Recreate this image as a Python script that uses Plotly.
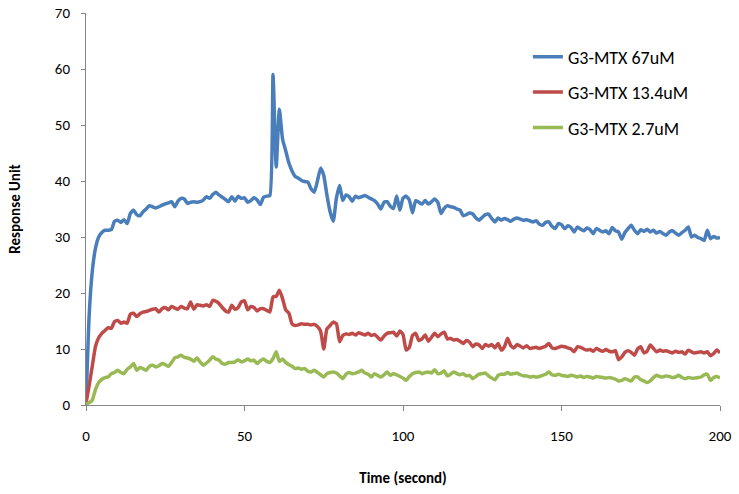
import plotly.graph_objects as go

# time in seconds, one sample per second
time_s = list(range(0, 201))

g3_67uM = [
    0, 16, 24, 28, 30, 30.8, 31.2, 31.2, 31.3, 32.8,
    33, 32.6, 33.1, 32.4, 34.2, 34.8, 34, 33.8, 34.5, 35,
    35.6, 35.4, 35.2, 35.4, 35.7, 35.9, 36.1, 36.3, 35.4, 36.4,
    36.9, 36.8, 36, 36.2, 36.3, 36.2, 36.3, 36.6, 37.2, 36.9,
    37.6, 38, 37.5, 37.1, 36.7, 36.3, 37.2, 36.4, 37.3, 36.9,
    37, 36.2, 36.5, 37, 36.6, 35.8, 37.1, 37.3, 37.4, 59,
    42.5, 52.8, 47.5, 45.4, 43.2, 41.8, 40.8, 40.5, 40.1, 39.9,
    39.8, 38.6, 38, 40, 42.3, 41, 37.5, 34.5, 32.8, 37,
    39.2, 36.5, 37.5, 37.2, 36.4, 37.3, 37, 37.2, 37.4, 37.1,
    36.8, 36.5, 35.9, 35, 36.2, 36.3, 35.5, 35.1, 37.3, 34.8,
    36.9, 37.3, 36.6, 34.3, 36.5, 36.2, 35.9, 36.5, 35.9, 36.3,
    36.8, 36.2, 34.2, 35.1, 35.6, 35.4, 35.3, 35, 34.8, 33.8,
    34, 34.3, 34.1, 33.4, 33, 33.5, 34, 34.1, 33.3, 32.7,
    33.4, 33, 33.3, 33.1, 32.8, 33.2, 33.4, 33.2, 33, 33.1,
    32.9, 32.7, 32.9, 32.3, 32.1, 32.6, 32.7, 31.9, 31.5, 32.4,
    32.2, 31.5, 32, 31.7, 30.9, 31.8, 31.4, 31.1, 31.6, 31.3,
    30.6, 31.5, 31.2, 30.9, 31.1, 30.6, 31.7, 31.1, 30.9, 29.6,
    30.8, 31.5, 32.1, 31.2, 30.6, 31.3, 31, 31.4, 30.9, 31.2,
    30.7, 31, 30.6, 30.3, 30.9, 31.1, 30.7, 30.3, 30.8, 31.2,
    31.8, 30, 30.3, 29.9, 29.7, 29.4, 31.2, 29.7, 30.1, 29.8,
    29.9,
]

g3_13_4uM = [
    0.3, 3.5, 7, 10.5, 12, 12.8, 13.3, 13.8, 13.7, 14.9,
    15.1, 14.6, 14.8, 14.6, 16.2, 16.4, 15.8, 16.3, 16.6, 16.7,
    16.9, 17.1, 17.2, 16.6, 17.2, 17.4, 17, 17.6, 17.3, 17.1,
    17.6, 17.3, 17.2, 18.4, 17.1, 17.9, 17.8, 17.7, 17.9, 17.6,
    18.7, 18.5, 18.1, 17.4, 16.8, 16.6, 17.8, 17.1, 17.4, 18.4,
    18.6, 17, 17.6, 17.4, 16.8, 17.2, 17.2, 16.9, 16.6, 19.3,
    19.4, 20.5, 19, 17, 16.4, 14.5, 14.2, 14.3, 14.5, 14.4,
    14.4, 14.3, 14.4, 14, 13.2, 10, 13.6, 14.2, 14.8, 14.5,
    11.3, 12.4, 12.7, 12.6, 12.8, 12.5, 12.9, 12.7, 12.5, 12.8,
    12.4, 12.6, 12.1, 11.6, 12.3, 12.8, 12.9, 13, 12.3, 13.2,
    12.6, 9.8, 10.3, 12.4, 12.8, 11.5, 11.8, 12.5, 11.4, 12.1,
    12.8, 12.2, 12.7, 13, 11.8, 11.9, 11.6, 11.7, 11.4, 11,
    11.5, 11.2, 10.4, 10.9, 10.7, 10.1, 10.8, 10.5, 10.8, 10.2,
    11, 9.8, 10.4, 11.9, 10.6, 10.2, 10.8, 10.5, 10.2, 10.6,
    10.1, 10.2, 10.3, 10.1, 10.3, 10.5, 11, 10.2, 10.1, 10.3,
    10.5, 10.4, 10.2, 10, 9.5, 10.4, 10.3, 10, 9.8, 9.9,
    9.6, 10.1, 9.8, 9.6, 9.9, 9.6, 9.5, 9.7, 8.1, 8.6,
    9.4, 9.7, 9.4, 8.9, 10, 10.4, 9.3, 9.6, 10.7, 10.1,
    9.5, 9.8, 9.6, 9.7, 9.5, 9.3, 9.6, 9.4, 9.5, 9.1,
    9.8, 9.5, 9.3, 9.4, 9.5, 9.3, 9.5, 8.8, 9.2, 9.8,
    9.3,
]

g3_2_7uM = [
    0.2, 0.4, 0.9, 2.8, 4, 4.6, 4.9, 5, 5.6, 5.8,
    6.2, 5.8, 5.6, 6.4, 6.8, 7.4, 6.2, 6.7, 6.5, 6.2,
    6.9, 7.1, 6.8, 7, 7.4, 7.2, 6.9, 7.6, 8.4, 8.6,
    8.9, 8.5, 8.4, 8.2, 7.8, 8.4, 7.7, 7.1, 7.5, 8,
    8.6, 8.2, 8, 7.4, 7.3, 7.6, 7.6, 7.7, 8.1, 7.7,
    7.9, 8.2, 7.9, 8, 7.4, 7.9, 8.2, 7.8, 7.6, 8.3,
    9.5, 7.8, 8.2, 7.6, 7.2, 6.9, 6.5, 6.6, 6.4, 6.5,
    6, 5.9, 6.2, 5.8, 5.4, 5, 5.6, 5.8, 5.9, 5.7,
    5.2, 4.7, 5.5, 5.8, 5.6, 5.7, 5.9, 6.2, 5.7, 5.5,
    5, 5.6, 5.3, 5, 5.4, 5.9, 5.3, 5.6, 5.4, 5.1,
    4.8, 4.4, 5.1, 5.6, 5.8, 5.9, 5.6, 5.8, 5.9, 5.7,
    6.3, 5.6, 5.7, 6.1, 5.2, 5.5, 5.9, 5.6, 5.4, 5.6,
    5.2, 5.3, 4.7, 5.1, 5.5, 5.6, 5.7, 5.2, 4.8, 4.5,
    5.3, 5.5, 5.5, 5.8, 5.5, 5.6, 5.7, 5.4, 5.2, 5.2,
    5, 5.1, 5, 5.1, 5.3, 5.5, 5.9, 5.4, 5.3, 5.5,
    5.3, 5.2, 5.1, 5.3, 5.2, 5.0, 5.2, 4.9, 5.1, 5,
    4.8, 5.1, 5, 4.9, 4.8, 4.9, 4.8, 4.6, 4.3, 4.4,
    4.7, 4.5, 4.3, 5, 5, 4.5, 4.3, 4, 4.3, 4.9,
    5.3, 5.1, 5, 5.2, 5.1, 4.9, 5, 5.3, 4.9, 4.7,
    4.9, 4.8, 4.8, 4.9, 5, 5.4, 5.5, 4.4, 4.9, 5.1,
    4.8,
]

series_names = ["G3-MTX 67uM", "G3-MTX 13.4uM", "G3-MTX 2.7uM"]
series_colors = ["#4A7EBB", "#BE4B48", "#98B954"]

FONT = "Carlito, Lato, 'Liberation Sans', sans-serif"
AXIS_GREY = "#868686"

fig = go.Figure()
for name, values, color in zip(series_names, [g3_67uM, g3_13_4uM, g3_2_7uM], series_colors):
    fig.add_trace(go.Scatter(
        x=time_s,
        y=values,
        mode="lines",
        name=name,
        legendgroup=name,
        line=dict(color=color, width=3.5, shape="spline", smoothing=0.5),
    ))

fig.update_layout(
    width=739,
    height=494,
    margin=dict(l=86, r=19, t=13, b=89),
    paper_bgcolor="white",
    plot_bgcolor="white",
    font=dict(family=FONT, size=15, color="#000000"),
    showlegend=True,
    legend=dict(
        x=0.697,
        y=0.935,
        xanchor="left",
        yanchor="top",
        traceorder="grouped",
        tracegroupgap=9,
        bgcolor="rgba(0,0,0,0)",
        font=dict(family=FONT, size=18),
    ),
    xaxis=dict(
        range=[0, 200],
        tickvals=[0, 50, 100, 150, 200],
        showgrid=False,
        zeroline=False,
        showline=True,
        linecolor=AXIS_GREY,
        linewidth=1,
        ticks="outside",
        ticklen=5,
        tickcolor=AXIS_GREY,
        ticklabelstandoff=12,
        ticklabeloverflow="allow",
        automargin=False,
        title=dict(text="<b>Time (second)</b>", standoff=28, font=dict(size=15)),
    ),
    yaxis=dict(
        range=[0, 70],
        tickvals=[0, 10, 20, 30, 40, 50, 60, 70],
        showgrid=False,
        zeroline=False,
        showline=True,
        linecolor=AXIS_GREY,
        linewidth=1,
        ticks="outside",
        ticklen=4,
        tickcolor=AXIS_GREY,
        ticklabelstandoff=8,
        ticklabeloverflow="allow",
        automargin=False,
        title=dict(text="<b>Response Unit</b>", standoff=30, font=dict(size=15)),
    ),
)

# drop the default 8px body margin so the figure fills the window exactly
fig.write_html(
    "out.html",
    config={"displayModeBar": False},
    post_script="document.body.style.margin = '0';",
)
